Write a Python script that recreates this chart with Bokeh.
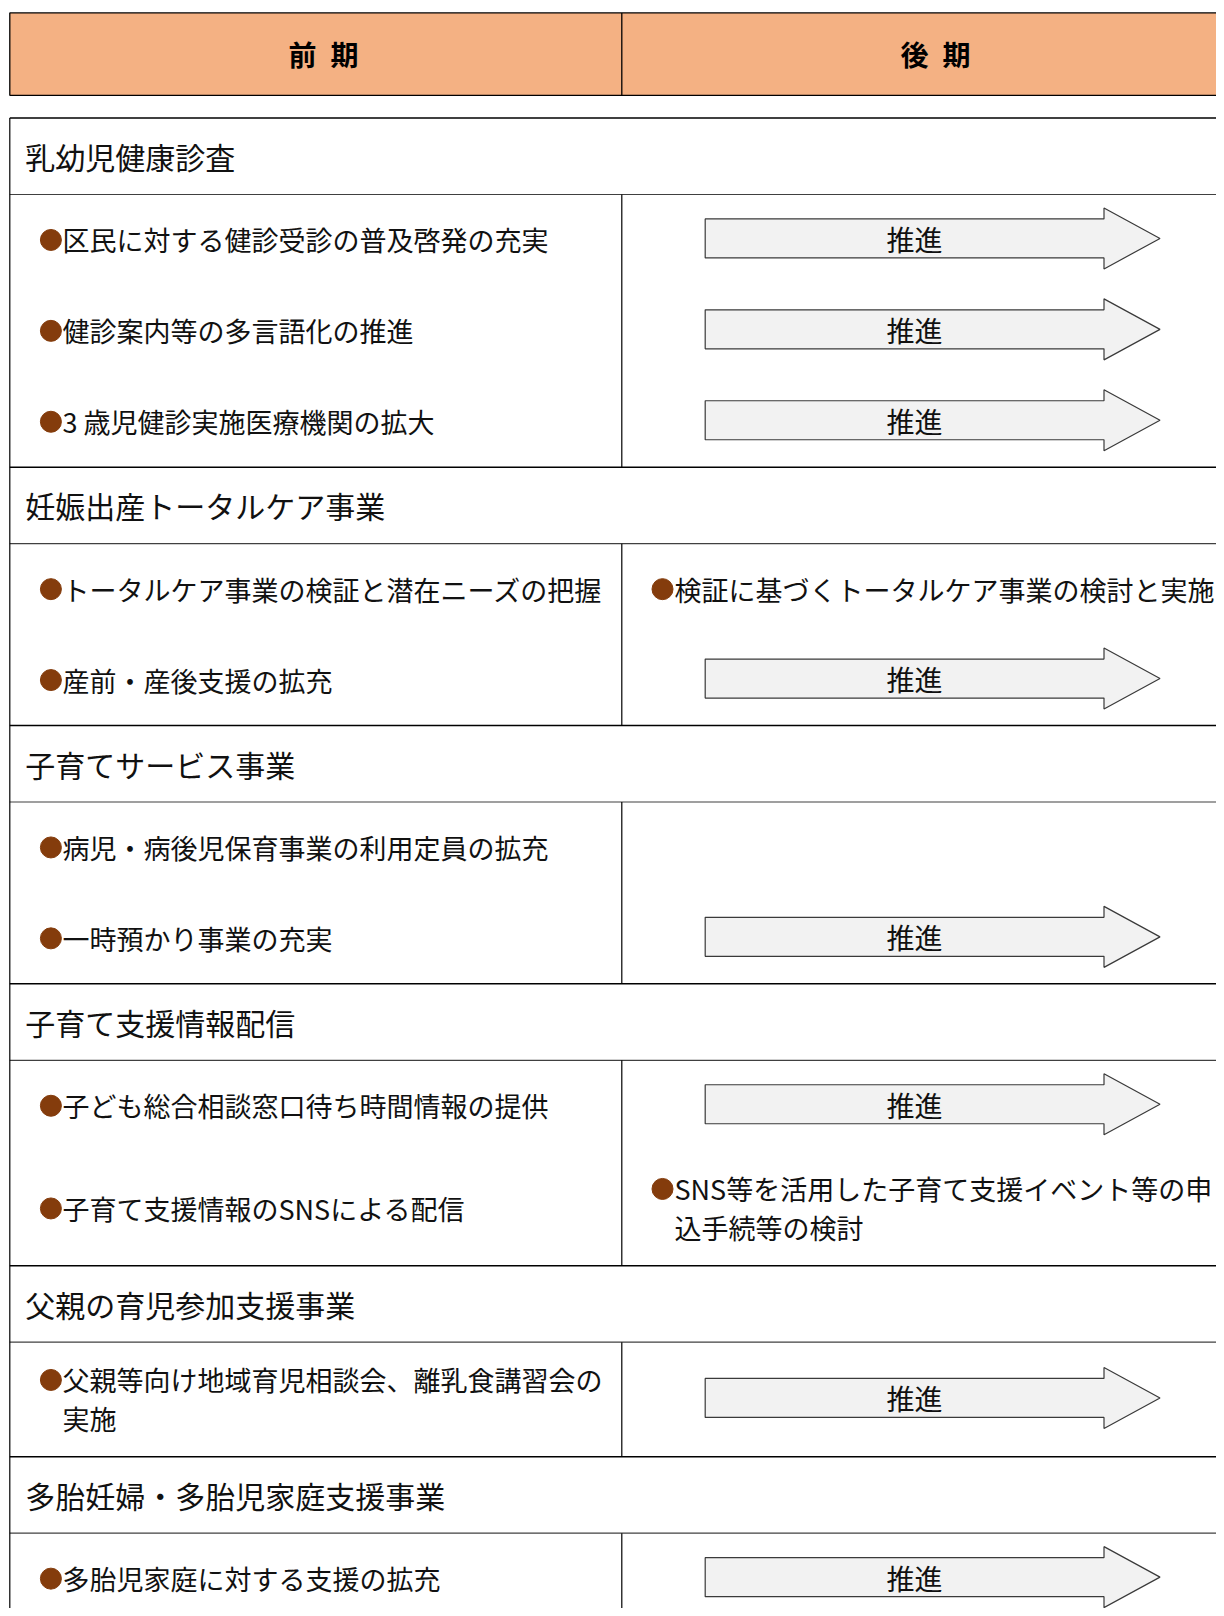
from bokeh.plotting import figure
from bokeh.models import Range1d
from bokeh.core.properties import value
from bokeh.embed import file_html
from bokeh.resources import INLINE

# ---------------- data ----------------
header_labels = ["前 期", "後 期"]

section_titles = [
    "乳幼児健康診査",
    "妊娠出産トータルケア事業",
    "子育てサービス事業",
    "子育て支援情報配信",
    "父親の育児参加支援事業",
    "多胎妊婦・多胎児家庭支援事業",
]

item_section = [0, 0, 0, 1, 1, 2, 2, 3, 3, 4, 5]

item_left = [
    "区民に対する健診受診の普及啓発の充実",
    "健診案内等の多言語化の推進",
    "3 歳児健診実施医療機関の拡大",
    "トータルケア事業の検証と潜在ニーズの把握",
    "産前・産後支援の拡充",
    "病児・病後児保育事業の利用定員の拡充",
    "一時預かり事業の充実",
    "子ども総合相談窓口待ち時間情報の提供",
    "子育て支援情報のSNSによる配信",
    "父親等向け地域育児相談会、離乳食講習会の\n実施",
    "多胎児家庭に対する支援の拡充",
]

# right column: "arrow" = 推進 arrow, "text" = bullet text, "none" = empty
item_right_kind = ["arrow", "arrow", "arrow", "text", "arrow", "none",
                   "arrow", "arrow", "text", "arrow", "arrow"]
item_right_text = ["", "", "", "検証に基づくトータルケア事業の検討と実施", "", "",
                   "", "", "SNS等を活用した子育て支援イベント等の申\n込手続等の検討", "", ""]

arrow_label = "推進"

# ---------------- layout / style ----------------
FONT = "Noto Sans CJK JP"
X_LEFT = 9.3
X_DIV = 621.3
X_RIGHT = 1260
HEAD_TOP, HEAD_BOT = 12.4, 94.8
TABLE_TOP = 117.5
TITLE_H = 76.5
SLOT1 = 90.9
SLOT2 = 114.5
LINE_GAP = 39
HEADER_FILL = "#F4B183"
BULLET_COLOR = "#843C0C"
TEXT_COLOR = "#111111"

p = figure(width=1216, height=1608, x_range=Range1d(0, 1216), y_range=Range1d(1608, 0),
           output_backend="svg", toolbar_location=None, min_border=0)
p.axis.visible = False
p.grid.visible = False
p.outline_line_color = None
p.background_fill_color = "white"

# header
p.quad(left=[X_LEFT], right=[X_RIGHT], top=[HEAD_TOP], bottom=[HEAD_BOT],
       fill_color=HEADER_FILL, line_color="black", line_width=1.3)
p.segment(x0=[X_DIV], y0=[HEAD_TOP], x1=[X_DIV], y1=[HEAD_BOT], line_color="black", line_width=1.3)
p.text(x=[323, 935], y=[(HEAD_TOP + HEAD_BOT) / 2] * 2,
       text=[lab.replace(" ", "\u2002") for lab in header_labels],
       text_font=value(FONT), text_font_size="28px", text_font_style="bold",
       text_align="center", text_baseline="middle", text_color="black")

# table body
hx0, hy0, hx1, hy1, hc, hw = [], [], [], [], [], []
vx0, vy0, vx1, vy1 = [], [], [], []
title_x, title_y, title_t = [], [], []
bul_x, bul_y = [], []
tx, ty, tt = [], [], []
arr_xs, arr_ys, arr_tx, arr_ty = [], [], [], []


def add_h(y, color, width):
    hx0.append(X_LEFT); hx1.append(X_RIGHT); hy0.append(y); hy1.append(y)
    hc.append(color); hw.append(width)


cur = TABLE_TOP
add_h(cur, "black", 1.4)
for s, title in enumerate(section_titles):
    title_x.append(24.7)
    title_y.append(cur + TITLE_H / 2)
    title_t.append(title)
    cur += TITLE_H
    add_h(cur, "#404040", 1.2)
    content_top = cur
    for i, sec in enumerate(item_section):
        if sec != s:
            continue
        left_lines = item_left[i].split("\n")
        right_lines = item_right_text[i].split("\n") if item_right_kind[i] == "text" else [""]
        nlines = max(len(left_lines), len(right_lines))
        h = SLOT1 if nlines == 1 else SLOT2
        cy = cur + h / 2
        # left bullet + lines
        first = cy - (len(left_lines) - 1) * LINE_GAP / 2
        bul_x.append(50.4); bul_y.append(first)
        for k, line in enumerate(left_lines):
            tx.append(62); ty.append(first + k * LINE_GAP); tt.append(line)
        # right column
        if item_right_kind[i] == "arrow":
            c = cy - 1.5
            x0, xb, tip, bh, hh = 704.7, 1103.5, 1159.5, 19.5, 30.5
            arr_xs.append([x0, xb, xb, tip, xb, xb, x0])
            arr_ys.append([c - bh, c - bh, c - hh, c, c + hh, c + bh, c + bh])
            arr_tx.append(914); arr_ty.append(c + 0.5)
        elif item_right_kind[i] == "text":
            rfirst = cy - (len(right_lines) - 1) * LINE_GAP / 2
            bul_x.append(662); bul_y.append(rfirst)
            for k, line in enumerate(right_lines):
                tx.append(674); ty.append(rfirst + k * LINE_GAP); tt.append(line)
        cur += h
    vx0.append(X_DIV); vx1.append(X_DIV); vy0.append(content_top); vy1.append(cur)
    add_h(cur, "black", 1.4)

# left border
vx0.append(X_LEFT); vx1.append(X_LEFT); vy0.append(TABLE_TOP); vy1.append(cur)

p.segment(x0=hx0, y0=hy0, x1=hx1, y1=hy1, line_color=hc, line_width=hw)
p.segment(x0=vx0, y0=vy0, x1=vx1, y1=vy1, line_color="black", line_width=1.2)

p.patches(xs=arr_xs, ys=arr_ys, fill_color="#F2F2F2", line_color="#3a3a3a", line_width=1.2)
p.text(x=arr_tx, y=arr_ty, text=[arrow_label] * len(arr_tx), text_font=value(FONT),
       text_font_size="28px", text_align="center", text_baseline="middle", text_color=TEXT_COLOR)

p.text(x=title_x, y=title_y, text=title_t, text_font=value(FONT), text_font_size="30px",
       text_align="left", text_baseline="middle", text_color=TEXT_COLOR)

p.scatter(x=bul_x, y=bul_y, size=21, marker="circle", fill_color=BULLET_COLOR, line_color=BULLET_COLOR)
p.text(x=tx, y=ty, text=tt, text_font=value(FONT), text_font_size="27px",
       text_align="left", text_baseline="middle", text_color=TEXT_COLOR)

open("out.html", "w").write(file_html(p, INLINE))
